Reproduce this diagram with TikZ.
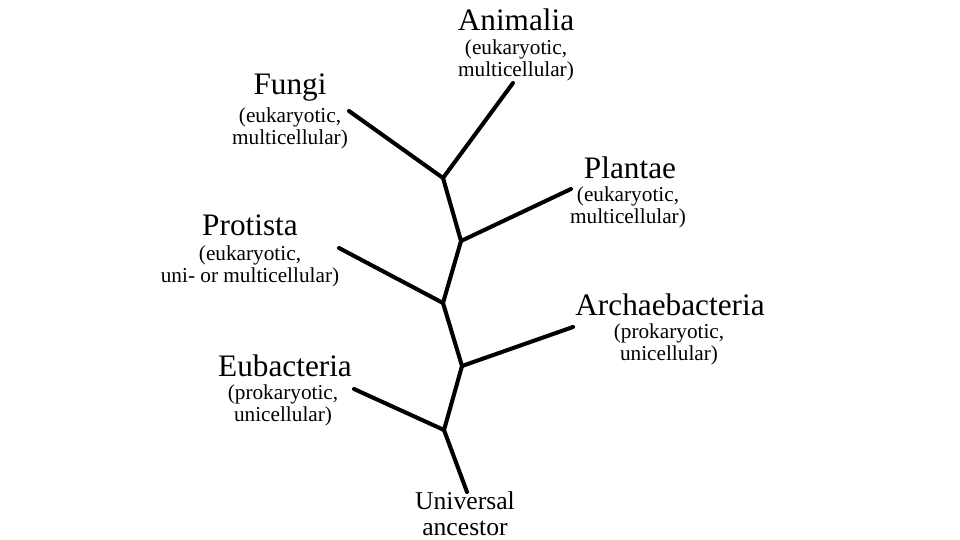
\documentclass[tikz,border=0pt]{standalone}
\usepackage{fontspec}
\setmainfont{Liberation Serif}
\usetikzlibrary{positioning}

\tikzset{
  branch/.style={line width=2.3pt, line cap=round, line join=round},
  kingdom/.style={font=\fontsize{17.8}{20}\selectfont, inner sep=0pt},
  detail/.style={font=\fontsize{12.1}{12.4}\selectfont, align=center, inner sep=0pt},
  rootlabel/.style={font=\fontsize{14.6}{15}\selectfont, align=center, inner sep=0pt}
}

\begin{document}
\begin{tikzpicture}[x=0.02cm, y=-0.02cm]
\useasboundingbox (0,0) rectangle (960,540);

% trunk junctions
\coordinate (root) at (467,492);
\coordinate (j1) at (444,430);
\coordinate (j2) at (462,366);
\coordinate (j3) at (443,303);
\coordinate (j4) at (461,241);
\coordinate (j5) at (443,178);

% branch tips
\coordinate (eubT) at (354,389);
\coordinate (arcT) at (573,327);
\coordinate (proT) at (339,248);
\coordinate (plaT) at (571,189);
\coordinate (funT) at (349,111);
\coordinate (aniT) at (513,83);

\draw[branch] (root) -- (j1) -- (j2) -- (j3) -- (j4) -- (j5) -- (aniT);
\draw[branch] (j1) -- (eubT);
\draw[branch] (j2) -- (arcT);
\draw[branch] (j3) -- (proT);
\draw[branch] (j4) -- (plaT);
\draw[branch] (j5) -- (funT);

% kingdoms
\node[kingdom] (animalia) at (516,20) {Animalia};
\node[detail] (animaliaD) at (516,60) {(eukaryotic,\\multicellular)};

\node[kingdom] (fungi) at (290,88) {Fungi};
\node[detail] (fungiD) at (290,128) {(eukaryotic,\\multicellular)};

\node[kingdom] (plantae) at (630,168) {Plantae};
\node[detail] (plantaeD) at (628,207) {(eukaryotic,\\multicellular)};

\node[kingdom] (protista) at (250,225) {Protista};
\node[detail] (protistaD) at (250,266) {(eukaryotic,\\uni- or multicellular)};

\node[kingdom] (archae) at (670,305) {Archaebacteria};
\node[detail] (archaeD) at (669,344) {(prokaryotic,\\unicellular)};

\node[kingdom] (eubact) at (285,366) {Eubacteria};
\node[detail] (eubactD) at (283,405) {(prokaryotic,\\unicellular)};

\node[rootlabel] (ancestor) at (465,514) {Universal\\ancestor};

\end{tikzpicture}
\end{document}
